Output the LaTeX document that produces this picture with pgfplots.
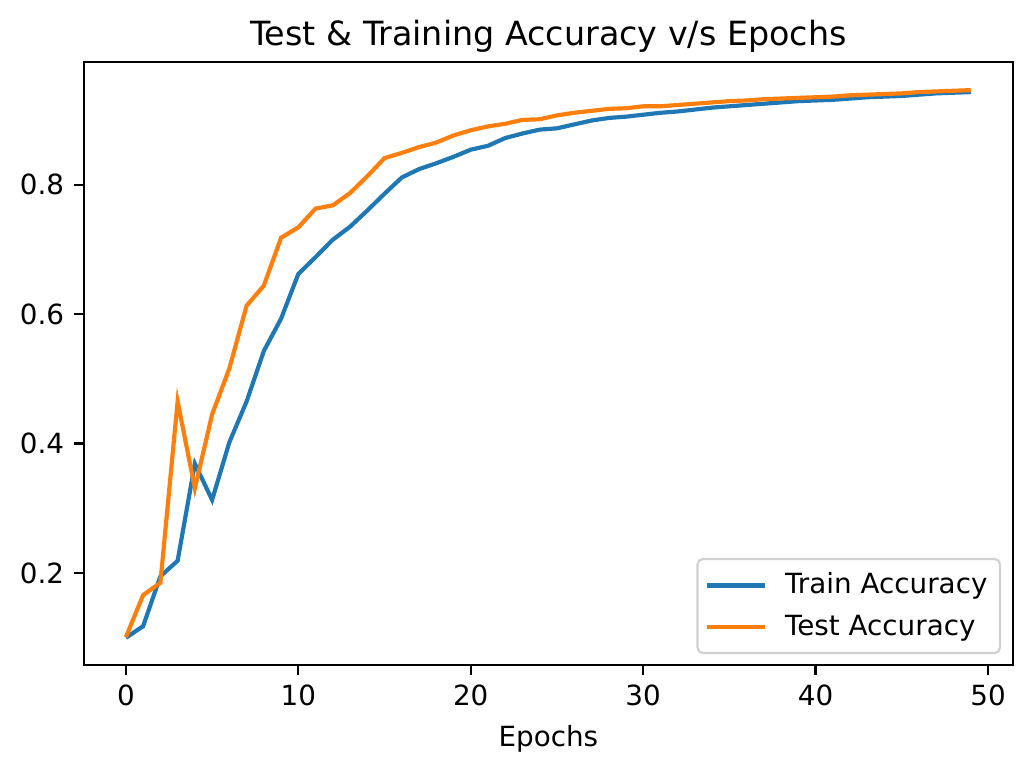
\documentclass[border=0pt]{standalone}
\usepackage{fontspec}
\setmainfont{DejaVu Sans}
\usepackage{pgfplots}
\pgfplotsset{compat=1.18}
\definecolor{cA}{HTML}{1F77B4}
\definecolor{cB}{HTML}{FF7F0E}
\begin{document}
\begin{tikzpicture}
\begin{axis}[
  scale only axis,
  width=334.4pt, height=217.1pt,
  at={(0,0)}, anchor=south west,
  xmin=-2.45, xmax=51.45,
  ymin=0.0575, ymax=0.9895,
  xtick={0,10,20,30,40,50},
  ytick={0.2,0.4,0.6,0.8},
  yticklabels={0.2,0.4,0.6,0.8},
  xticklabels={0,10,20,30,40,50},
  tick pos=left,
  tick align=outside,
  major tick length=3.5pt,
  tick style={line width=0.8pt, black},
  axis line style={line width=0.8pt},
  ticklabel style={font=\fontsize{10}{12}\selectfont},
  /pgf/number format/assume math mode=true,
  xlabel={Epochs},
  xlabel style={font=\fontsize{10}{12}\selectfont},
  title={Test \& Training Accuracy v/s Epochs},
  title style={font=\fontsize{12}{14}\selectfont, at={(0.5,1)}, anchor=base},
  legend style={at={(1,0)}, anchor=south east, xshift=-4.3pt, yshift=4pt,
    draw=black!18, line width=0.8pt,
    rounded corners=2pt, font=\fontsize{10}{12}\selectfont, row sep=2pt, column sep=4.5pt,
    inner xsep=2.5pt, inner ysep=3pt},
  legend cell align=left,
  legend image code/.code={\draw[#1] (0pt,0pt) -- (21pt,0pt);},
  clip=false,
]
\addplot[cA, line width=1.5pt] coordinates {
(0,0.100) (1,0.118) (2,0.195) (3,0.219) (4,0.369) (5,0.313) (6,0.402) (7,0.465) (8,0.543) (9,0.593)
(10,0.662) (11,0.688) (12,0.715) (13,0.735) (14,0.760) (15,0.786) (16,0.811) (17,0.824) (18,0.833) (19,0.843)
(20,0.854) (21,0.860) (22,0.872) (23,0.879) (24,0.885) (25,0.887) (26,0.893) (27,0.899) (28,0.903) (29,0.905)
(30,0.908) (31,0.911) (32,0.913) (33,0.916) (34,0.919) (35,0.921) (36,0.923) (37,0.925) (38,0.927) (39,0.929)
(40,0.930) (41,0.931) (42,0.933) (43,0.935) (44,0.936) (45,0.937) (46,0.939) (47,0.941) (48,0.942) (49,0.943)
};
\addlegendentry{Train Accuracy}
\addplot[cB, line width=1.5pt] coordinates {
(0,0.101) (1,0.166) (2,0.185) (3,0.465) (4,0.331) (5,0.445) (6,0.516) (7,0.613) (8,0.644) (9,0.718)
(10,0.734) (11,0.763) (12,0.768) (13,0.787) (14,0.813) (15,0.841) (16,0.849) (17,0.858) (18,0.865) (19,0.876)
(20,0.884) (21,0.890) (22,0.894) (23,0.900) (24,0.901) (25,0.907) (26,0.911) (27,0.914) (28,0.917) (29,0.918)
(30,0.921) (31,0.921) (32,0.923) (33,0.925) (34,0.927) (35,0.929) (36,0.930) (37,0.932) (38,0.933) (39,0.934)
(40,0.935) (41,0.936) (42,0.938) (43,0.939) (44,0.940) (45,0.941) (46,0.943) (47,0.944) (48,0.945) (49,0.946)
};
\addlegendentry{Test Accuracy}
\end{axis}
\path (-30.1pt,-38.9pt) rectangle (341.6pt,239.4pt);
\end{tikzpicture}
\end{document}
